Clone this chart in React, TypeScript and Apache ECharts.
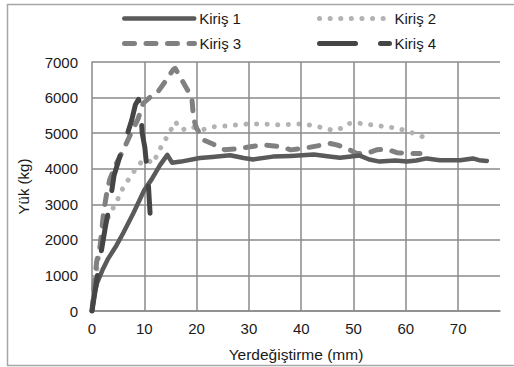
import React, { useEffect, useRef } from "react";
import * as echarts from "echarts";

const seriesNames = ["Kiriş 1", "Kiriş 2", "Kiriş 3", "Kiriş 4"];
const xTicks = [10, 20, 30, 40, 50, 60, 70];

const k1: number[][] = [
  [0, 0], [0.5, 500], [1, 800], [2, 1150], [3, 1450], [4.7, 1850], [6, 2200], [7.9, 2750],
  [10, 3400], [11.4, 3700], [13, 4100], [14.4, 4390], [15.3, 4170], [17, 4200], [20.6, 4300],
  [23, 4330], [26.4, 4380], [29, 4300], [30.8, 4260], [34.6, 4340], [38, 4360], [42.4, 4400],
  [45, 4350], [47.4, 4310], [51.2, 4370], [53, 4260], [55, 4200], [58, 4230], [60.2, 4200],
  [62, 4230], [64, 4290], [66.5, 4240], [70.4, 4240], [72.8, 4290], [74, 4240], [75.5, 4220],
];

const k2: number[][] = [
  [0, 0], [0.7, 900], [1.5, 1800], [2.3, 2400], [3.5, 2750], [4.7, 3070], [5.7, 3400],
  [6.9, 3680], [8.2, 3960], [9.5, 4200], [10.5, 4250], [11.7, 4150], [12.7, 4480], [13.6, 4710],
  [14.9, 5040], [15.9, 5320], [17.2, 5090], [19.1, 5180], [21, 5090], [23.2, 5180], [25.5, 5200],
  [27.7, 5230], [29.9, 5260], [31.8, 5260], [34, 5250], [36, 5230], [38, 5250], [40, 5260],
  [42, 5220], [44.5, 5140], [46, 5080], [47.5, 5130], [49, 5270], [51, 5280], [53, 5240],
  [54, 5230], [56, 5180], [58.3, 5140], [60.2, 5060], [62.4, 4950], [64.3, 4830],
];

const k3: number[][] = [
  [0, 0], [0.4, 700], [0.9, 1400], [1.5, 1750], [2.2, 2750], [2.8, 3300], [3.4, 3700],
  [4.5, 4100], [6, 4530], [7.3, 4950], [8.8, 5400], [9.8, 5840], [11, 6000], [12.4, 6120],
  [14, 6450], [15.5, 6780], [15.9, 6820], [16.8, 6590], [18.5, 6150], [19.1, 5980], [19.4, 5420],
  [20, 5140], [21.3, 4810], [23, 4700], [24.5, 4600], [25.4, 4530], [28.3, 4570], [32.5, 4670],
  [36, 4620], [38, 4530], [40.4, 4570], [42.3, 4620], [45.5, 4710], [46.8, 4670], [48.7, 4570],
  [50.6, 4430], [52.5, 4430], [54.4, 4530], [56.3, 4550], [58.3, 4450], [60.8, 4430], [62.7, 4430],
];

const k4: number[][] = [
  [0, 0], [1.2, 1150], [1.8, 1700], [2.6, 2400], [3.4, 3000], [4.2, 3800], [5.7, 4530],
  [6.6, 4900], [7.6, 5370], [8.3, 5800], [8.9, 5950], [9.3, 5700], [9.6, 5000], [10.1, 4600],
  [10.5, 4000], [10.8, 3500], [11.1, 2750],
];

const FONT = "'Liberation Sans', Arial, sans-serif";
const GRID = "#8a8a8a";
const TXT = "#1a1a1a";
const C1 = "#5a5a5a";
const C2 = "#b3b3b3";
const C3 = "#808080";
const C4 = "#454545";

export default function App() {
  const ref = useRef<HTMLDivElement>(null);
  useEffect(() => {
    if (!ref.current) return;
    const chart = echarts.init(ref.current, null, { renderer: "svg" });
    const legendBase = {
      itemWidth: 70,
      itemHeight: 14,
      itemGap: 6,
      textStyle: { fontFamily: FONT, fontSize: 15, color: TXT },
      padding: 0,
      itemStyle: { opacity: 0, borderWidth: 0 },
    };
    chart.setOption({
      animation: false,
      backgroundColor: "#ffffff",
      textStyle: { fontFamily: FONT },
      grid: { left: 92, right: 14, top: 62, bottom: 56, containLabel: false },
      legend: [
        { ...legendBase, data: [seriesNames[0]], left: 122, top: 11, lineStyle: { width: 4.5, cap: "round" } },
        { ...legendBase, data: [seriesNames[1]], left: 317, top: 11, lineStyle: { width: 5, cap: "round" } },
        { ...legendBase, data: [seriesNames[2]], left: 122, top: 36, lineStyle: { width: 5, cap: "round" } },
        { ...legendBase, data: [seriesNames[3]], left: 317, top: 36, lineStyle: { width: 5, cap: "round" } },
      ],
      graphic: [
        {
          type: "rect",
          shape: { x: 7.5, y: 4.5, width: 530, height: 361 },
          style: { fill: "none", stroke: "#a6a6a6", lineWidth: 1.5 },
          silent: true,
          z: -10,
        },
      ],
      xAxis: {
        type: "value",
        min: 0,
        max: 78,
        interval: 10,
        name: "Yerdeğiştirme (mm)",
        nameLocation: "middle",
        nameGap: 35,
        nameTextStyle: { fontFamily: FONT, fontSize: 15.5, color: TXT },
        axisLine: { show: true, lineStyle: { color: GRID, width: 1.5 } },
        axisTick: { show: false },
        axisLabel: {
          margin: 10,
          fontFamily: FONT,
          fontSize: 15,
          color: TXT,
          showMaxLabel: false,
          formatter: (v: number) => (v % 10 === 0 ? String(v) : ""),
        },
        splitLine: { show: false },
      },
      yAxis: {
        type: "value",
        min: 0,
        max: 7000,
        interval: 1000,
        name: "Yük (kg)",
        nameLocation: "middle",
        nameGap: 61,
        nameRotate: 90,
        nameTextStyle: { fontFamily: FONT, fontSize: 15, color: TXT },
        axisLine: { show: true, lineStyle: { color: GRID, width: 1.5 } },
        axisTick: { show: false },
        axisLabel: {
          margin: 14,
          fontFamily: FONT,
          fontSize: 15,
          color: TXT,
          formatter: (v: number) => String(v),
        },
        splitLine: { show: true, lineStyle: { color: GRID, width: 1.5 } },
      },
      series: [
        {
          name: "__grid",
          type: "line",
          data: [],
          z: 1,
          silent: true,
          markLine: {
            silent: true,
            symbol: "none",
            label: { show: false },
            lineStyle: { color: GRID, width: 1.5, type: "solid" },
            data: xTicks.map((v) => ({ xAxis: v })),
          },
        },
        {
          name: seriesNames[0],
          type: "line",
          data: k1,
          symbol: "none",
          z: 5,
          lineStyle: { color: C1, width: 4.5, cap: "round", join: "round" },
          itemStyle: { color: C1 },
        },
        {
          name: seriesNames[1],
          type: "line",
          data: k2,
          symbol: "none",
          z: 3,
          lineStyle: { color: C2, width: 5, type: [0.1, 10.5], cap: "round", join: "round" },
          itemStyle: { color: C2 },
        },
        {
          name: seriesNames[2],
          type: "line",
          data: k3,
          symbol: "none",
          z: 4,
          lineStyle: { color: C3, width: 5, type: [10, 11.5], cap: "round", join: "round" },
          itemStyle: { color: C3 },
        },
        {
          name: seriesNames[3],
          type: "line",
          data: k4,
          symbol: "none",
          z: 6,
          lineStyle: { color: C4, width: 5, type: [36, 25], cap: "round", join: "round" },
          itemStyle: { color: C4 },
        },
      ],
    });
    return () => chart.dispose();
  }, []);
  return (
    <div
      ref={ref}
      style={{ position: "fixed", left: 0, top: 0, width: 514, height: 367, background: "#fff" }}
    />
  );
}
